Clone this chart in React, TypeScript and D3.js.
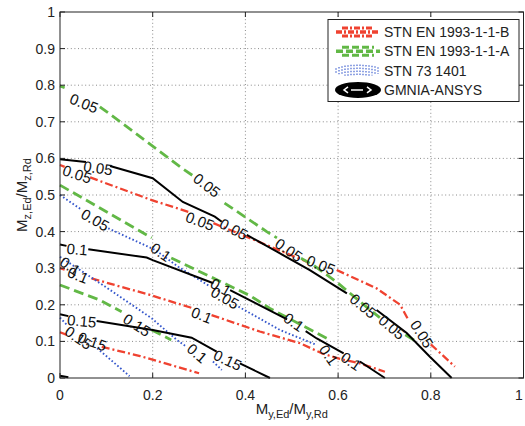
import React from "react";
import * as d3 from "d3";

const N = NaN;

// Axis ticks
const xTicks = [0, 0.2, 0.4, 0.6, 0.8, 1];
const yTicks = [0, 0.1, 0.2, 0.3, 0.4, 0.5, 0.6, 0.7, 0.8, 0.9, 1];
const xTickLabels = ["0", "0.2", "0.4", "0.6", "0.8", "1"];
const yTickLabels = ["0", "0.1", "0.2", "0.3", "0.4", "0.5", "0.6", "0.7", "0.8", "0.9", "1"];

// Legend
const seriesNames = ["STN EN 1993-1-1-B", "STN EN 1993-1-1-A", "STN 73 1401", "GMNIA-ANSYS"];

// GMNIA-ANSYS contours (black)
const gmnia005 = [[0, 0.598], [0.056, 0.59], [N, N], [0.108, 0.579], [0.2, 0.546], [0.265, 0.481], [0.334, 0.441], [0.349, 0.427], [N, N], [0.403, 0.391], [0.468, 0.345], [0.539, 0.295], [0.619, 0.231], [N, N], [0.683, 0.186], [0.748, 0.123], [0.798, 0.058], [0.845, 0]];
const gmnia01 = [[0, 0.365], [0.014, 0.361], [N, N], [0.061, 0.352], [0.187, 0.329], [0.2, 0.322], [0.331, 0.259], [N, N], [0.367, 0.24], [0.49, 0.16], [N, N], [0.53, 0.128], [0.554, 0.108], [0.612, 0.067], [N, N], [0.647, 0.045], [0.701, 0]];
const gmnia015 = [[0, 0.174], [0.018, 0.169], [N, N], [0.079, 0.156], [0.2, 0.131], [0.284, 0.11], [0.338, 0.072], [N, N], [0.388, 0.04], [0.453, 0]];
const gmnia02 = [[0, 0.006], [0.018, 0.002]];

// STN EN 1993-1-1-B contours (red)
const enB005 = [[0, 0.582], [0.01, 0.577], [N, N], [0.065, 0.548], [0.198, 0.486], [0.277, 0.454], [N, N], [0.331, 0.423], [0.41, 0.382], [0.532, 0.318], [N, N], [0.597, 0.295], [0.683, 0.245], [0.734, 0.2], [0.751, 0.16], [N, N], [0.8, 0.092], [0.852, 0.031]];
const enB01 = [[0, 0.3], [0.01, 0.296], [N, N], [0.068, 0.272], [0.194, 0.227], [0.288, 0.19], [N, N], [0.327, 0.172], [0.431, 0.127], [0.518, 0.095], [0.566, 0.067], [0.604, 0.052], [0.647, 0.04], [0.701, 0.017]];
const enB015 = [[0, 0.125], [0.015, 0.118], [N, N], [0.09, 0.085], [0.173, 0.06], [0.3, 0.013]];

// STN EN 1993-1-1-A contours (green)
const enA005 = [[0, 0.798], [0.01, 0.793], [N, N], [0.086, 0.741], [0.144, 0.687], [0.259, 0.577], [0.29, 0.55], [N, N], [0.355, 0.478], [0.446, 0.4], [0.468, 0.383], [N, N], [0.52, 0.327], [0.546, 0.309], [0.597, 0.262], [0.665, 0.19], [0.69, 0.165], [N, N], [0.745, 0.118], [0.77, 0.099]];
const enA01 = [[0, 0.527], [0.198, 0.383], [N, N], [0.24, 0.328], [0.41, 0.225], [0.453, 0.19], [0.561, 0.118], [0.583, 0.104]];
const enA015 = [[0, 0.254], [0.086, 0.213], [0.133, 0.181], [N, N], [0.198, 0.131], [0.24, 0.104]];

// STN 73 1401 contours (blue)
const stn005 = [[0, 0.5], [0.045, 0.461], [N, N], [0.104, 0.409], [0.205, 0.35], [0.255, 0.304], [0.324, 0.25], [N, N], [0.385, 0.195], [0.475, 0.131], [0.554, 0.09]];
const stn01 = [[0, 0.331], [0.097, 0.25], [0.198, 0.163], [0.252, 0.104], [0.27, 0.088], [N, N], [0.33, 0.045], [0.349, 0.022]];
const stn015 = [[0, 0.165], [0.015, 0.145], [N, N], [0.08, 0.081], [0.1, 0.06], [0.15, 0.005]];

// Contour labels: [text, x, y, angle]
const contourLabels: [string, number, number, number][] = [
  ["0.05", 0.052, 0.751, 22],
  ["0.05", 0.082, 0.574, 8],
  ["0.05", 0.037, 0.557, 18],
  ["0.05", 0.317, 0.527, 38],
  ["0.05", 0.076, 0.432, 30],
  ["0.05", 0.302, 0.429, 20],
  ["0.05", 0.375, 0.407, 28],
  ["0.05", 0.494, 0.35, 35],
  ["0.05", 0.563, 0.309, 22],
  ["0.05", 0.654, 0.197, 40],
  ["0.05", 0.716, 0.139, 40],
  ["0.05", 0.781, 0.12, 58],
  ["0.05", 0.356, 0.219, 30],
  ["0.1", 0.037, 0.352, 5],
  ["0.1", 0.218, 0.344, 35],
  ["0.1", 0.022, 0.306, 35],
  ["0.1", 0.039, 0.281, 22],
  ["0.1", 0.347, 0.249, 30],
  ["0.1", 0.306, 0.172, 22],
  ["0.1", 0.505, 0.153, 35],
  ["0.1", 0.58, 0.063, 55],
  ["0.1", 0.628, 0.046, 35],
  ["0.1", 0.296, 0.068, 40],
  ["0.15", 0.047, 0.156, 5],
  ["0.15", 0.166, 0.145, 32],
  ["0.15", 0.04, 0.11, 35],
  ["0.15", 0.07, 0.1, 20],
  ["0.15", 0.362, 0.049, 25],
];

const FONT = "'Liberation Sans', Arial, Helvetica, sans-serif";
const RED = "#ef4230";
const GREEN = "#62b846";
const BLUE = "#3557cc";

export default function App() {
  const W = 525, H = 426;
  const x = d3.scaleLinear().domain([0, 1]).range([60, 523.5]);
  const y = d3.scaleLinear().domain([0, 1]).range([378, 12]);
  const line = d3
    .line<number[]>()
    .defined((d) => !isNaN(d[0]) && !isNaN(d[1]))
    .x((d) => x(d[0]))
    .y((d) => y(d[1]));

  const groups = [
    { data: [enB005, enB01, enB015], stroke: RED, width: 2.3, dash: "8,3,2,3" },
    { data: [enA005, enA01, enA015], stroke: GREEN, width: 2.8, dash: "10,5" },
    { data: [stn005, stn01, stn015], stroke: BLUE, width: 1.9, dash: "1.6,2.2" },
    { data: [gmnia005, gmnia01, gmnia015, gmnia02], stroke: "#000", width: 2, dash: "none" },
  ];

  const x0 = x(0), x1 = x(1), y0 = y(0), y1 = y(1);

  return (
    <svg width={W} height={H} style={{ position: "absolute", left: 0, top: 0, background: "#fff" }} fontFamily={FONT}>
      <rect x={0} y={0} width={W} height={H} fill="#fff" />
      {/* grid */}
      {xTicks.slice(1, -1).map((t) => (
        <line key={"gx" + t} x1={x(t)} x2={x(t)} y1={y1} y2={y0} stroke="#8a8a8a" strokeWidth={1} strokeDasharray="1,2.6" />
      ))}
      {yTicks.slice(1, -1).map((t) => (
        <line key={"gy" + t} x1={x0} x2={x1} y1={y(t)} y2={y(t)} stroke="#8a8a8a" strokeWidth={1} strokeDasharray="1,2.6" />
      ))}
      {/* contours */}
      {groups.map((g, gi) =>
        g.data.map((dat, di) => (
          <path key={gi + "-" + di} d={line(dat) || ""} fill="none" stroke={g.stroke} strokeWidth={g.width} strokeDasharray={g.dash} />
        ))
      )}
      {/* contour labels */}
      {contourLabels.map(([t, lx, ly, a], i) => (
        <text key={"cl" + i} x={x(lx)} y={y(ly)} fontSize={15} textAnchor="middle" dominantBaseline="central" transform={`rotate(${a},${x(lx)},${y(ly)})`} fill="#111">
          {t}
        </text>
      ))}
      {/* frame */}
      <rect x={x0} y={y1} width={x1 - x0} height={y0 - y1} fill="none" stroke="#222" strokeWidth={1} />
      {/* ticks */}
      {xTicks.map((t) => (
        <g key={"tx" + t}>
          <line x1={x(t)} x2={x(t)} y1={y0} y2={y0 - 5} stroke="#222" />
          <line x1={x(t)} x2={x(t)} y1={y1} y2={y1 + 5} stroke="#222" />
        </g>
      ))}
      {yTicks.map((t) => (
        <g key={"ty" + t}>
          <line x1={x0} x2={x0 + 5} y1={y(t)} y2={y(t)} stroke="#222" />
          <line x1={x1} x2={x1 - 5} y1={y(t)} y2={y(t)} stroke="#222" />
        </g>
      ))}
      {/* tick labels */}
      {xTicks.map((t, i) => (
        <text key={"xl" + t} x={Math.min(x(t), 519)} y={400} fontSize={14} textAnchor="middle" fill="#222">
          {xTickLabels[i]}
        </text>
      ))}
      {yTicks.map((t, i) => (
        <text key={"yl" + t} x={55} y={y(t) + 5} fontSize={14} textAnchor="end" fill="#222">
          {yTickLabels[i]}
        </text>
      ))}
      {/* axis labels */}
      <text x={(x0 + x1) / 2} y={414} fontSize={15} textAnchor="middle" fill="#222">
        M<tspan fontSize={11} dy={4}>y,Ed</tspan>
        <tspan dy={-4}>/M</tspan>
        <tspan fontSize={11} dy={4}>y,Rd</tspan>
      </text>
      <text transform={`translate(27,${(y0 + y1) / 2}) rotate(-90)`} fontSize={15} textAnchor="middle" fill="#222">
        M<tspan fontSize={11} dy={4}>z,Ed</tspan>
        <tspan dy={-4}>/M</tspan>
        <tspan fontSize={11} dy={4}>z,Rd</tspan>
      </text>
      {/* legend */}
      <rect x={328} y={19.5} width={191} height={82} fill="#fff" stroke="#222" strokeWidth={1} />
      {seriesNames.map((s, i) => {
        const cy = 32 + i * 19.3;
        const cx = 358;
        let sym: React.ReactNode = null;
        if (i === 0 || i === 1) {
          const col = i === 0 ? RED : GREEN;
          const dash = i === 0 ? "6,2,2,2" : "7,3";
          sym = (
            <g>
              <line x1={cx - 16} x2={cx + 16} y1={cy - 4} y2={cy - 4} stroke={col} strokeWidth={3} strokeDasharray={dash} />
              <line x1={cx - 22} x2={cx + 22} y1={cy} y2={cy} stroke={col} strokeWidth={3.5} strokeDasharray={dash} />
              <line x1={cx - 16} x2={cx + 16} y1={cy + 4} y2={cy + 4} stroke={col} strokeWidth={3} strokeDasharray={dash} />
            </g>
          );
        } else if (i === 2) {
          sym = (
            <g>
              {d3.range(-22, 23, 3).map((dx) => {
                const h = 6 * Math.sqrt(Math.max(0, 1 - (dx / 24) ** 2));
                return <line key={dx} x1={cx + dx} x2={cx + dx} y1={cy - h} y2={cy + h} stroke={BLUE} strokeWidth={1.1} strokeDasharray="1.5,1.5" />;
              })}
            </g>
          );
        } else {
          sym = (
            <g>
              <ellipse cx={cx} cy={cy} rx={23} ry={8} fill="#000" />
              <path d={`M${cx - 10},${cy - 3} L${cx - 14},${cy} L${cx - 10},${cy + 3} M${cx - 7},${cy} L${cx + 5},${cy} M${cx + 9},${cy - 3} L${cx + 13},${cy} L${cx + 9},${cy + 3}`} fill="none" stroke="#fff" strokeWidth={1.5} />
            </g>
          );
        }
        return (
          <g key={s}>
            {sym}
            <text x={384} y={cy + 5} fontSize={14} fill="#222">
              {s}
            </text>
          </g>
        );
      })}
    </svg>
  );
}
